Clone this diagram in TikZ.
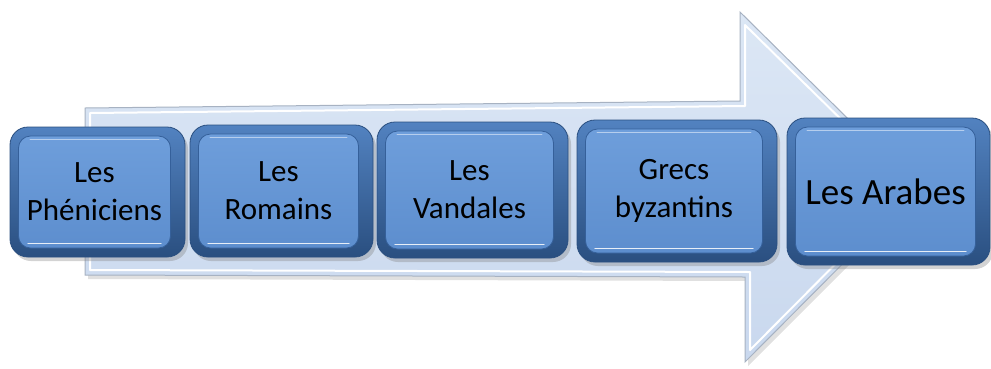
\documentclass[tikz,border=0pt]{standalone}
\usepackage{fontspec}
\setmainfont{Carlito}
\usetikzlibrary{shadows}
\definecolor{arrowfill}{HTML}{DCE7F5}
\definecolor{arrowfillb}{HTML}{C9D8EE}
\definecolor{arrowedge}{HTML}{A7B2C2}
\definecolor{bevtop}{HTML}{5282C0}
\definecolor{bevbot}{HTML}{2A4F80}
\definecolor{facetop}{HTML}{6E9EDB}
\definecolor{facebot}{HTML}{5D8ECE}
\definecolor{faceedge}{HTML}{35609A}
\tikzset{
  outerbox/.style={rounded corners=18pt, draw=bevbot, line width=0.8pt,
    top color=bevtop, bottom color=bevbot,
    drop shadow={opacity=0.35, shadow xshift=3pt, shadow yshift=-4pt},
    inner sep=0pt},
  innerbox/.style={rounded corners=12pt, draw=faceedge, line width=0.8pt,
    top color=facetop, bottom color=facebot, inner sep=0pt, align=center,
    font=\fontsize{31}{38}\selectfont, text=black},
  bigtext/.style={font=\fontsize{37}{43}\selectfont},
  hilite/.style={draw=white, opacity=0.85, line width=1.6pt, line cap=round},
}
\begin{document}
\begin{tikzpicture}[x=1pt,y=-1pt]
\useasboundingbox (0,0) rectangle (991,368);
% big arrow
\fill[black, opacity=0.12] (88,112) -- (743,105) -- (743,16) -- (922,192) -- (748,366) -- (748,281) -- (88,279) -- cycle;
\path[top color=arrowfill, bottom color=arrowfillb, draw=arrowedge, line width=1pt]
  (85,108) -- (740,101) -- (740,12) -- (918,188) -- (745,362) -- (745,277) -- (85,275) -- cycle;
\draw[white, line width=2pt, line join=round]
  (90,113) -- (745,106) -- (745,25) -- (911,188) -- (750,350) -- (750,272) -- (90,270) -- cycle;
% boxes
\node[outerbox, minimum width=175, minimum height=130] (o1) at (97.5,192) {};
\node[innerbox, minimum width=152, minimum height=112] (b1) at ([xshift=-3pt]o1.center) {Les\\Phéniciens};
\node[outerbox, minimum width=183, minimum height=132] (o2) at (281.5,191) {};
\node[innerbox, minimum width=160, minimum height=114] (b2) at ([xshift=-3pt]o2.center) {Les\\Romains};
\node[outerbox, minimum width=191, minimum height=136] (o3) at (472.5,190) {};
\node[innerbox, minimum width=168, minimum height=118] (b3) at ([xshift=-3pt]o3.center) {Les\\Vandales};
\node[outerbox, minimum width=200, minimum height=142] (o4) at (677,191) {};
\node[innerbox, minimum width=177, minimum height=124] (b4) at ([xshift=-3pt]o4.center) {Grecs\\byzantins};
\node[outerbox, minimum width=203, minimum height=147] (o5) at (888.5,191.5) {};
\node[innerbox, bigtext, minimum width=180, minimum height=129] (b5) at ([xshift=-3pt]o5.center) {Les Arabes};
% highlights
\foreach \b in {b1,b2,b3,b4,b5}{
  \draw[hilite] ([xshift=10pt,yshift=5pt]\b.south west) -- ([xshift=-10pt,yshift=5pt]\b.south east);
  \draw[hilite, opacity=0.5, line width=1pt] ([xshift=12pt,yshift=-4pt]\b.north west) -- ([xshift=-12pt,yshift=-4pt]\b.north east);
}
\end{tikzpicture}
\end{document}
